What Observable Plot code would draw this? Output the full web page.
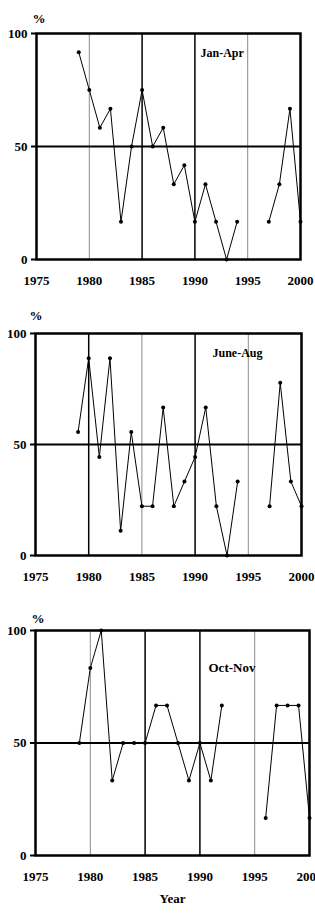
<!DOCTYPE html>
<html>
<head>
<meta charset="utf-8">
<script src="https://cdn.jsdelivr.net/npm/d3@7"></script>
<script src="https://cdn.jsdelivr.net/npm/@observablehq/plot@0.6"></script>
<style>
  html, body { margin: 0; padding: 0; background: #fff; overflow: hidden; width: 315px; }
  #wrap svg { display: block; }
</style>
</head>
<body>
<div id="wrap"></div>
<script>
const years = [1979,1980,1981,1982,1983,1984,1985,1986,1987,1988,1989,1990,1991,1992,1993,1994,1995,1996,1997,1998,1999,2000];
const janApr  = [91.7,75,58.3,66.7,16.7,50,75,50,58.3,33.3,41.7,16.7,33.3,16.7,0,16.7,null,null,16.7,33.3,66.7,16.7];
const juneAug = [55.6,88.9,44.4,88.9,11.1,55.6,22.2,22.2,66.7,22.2,33.3,44.4,66.7,22.2,0,33.3,null,null,22.2,77.8,33.3,22.2];
const octNov  = [50,83.3,100,33.3,50,50,50,66.7,66.7,50,33.3,50,33.3,66.7,null,null,null,16.7,66.7,66.7,66.7,16.7];
const xTicks = [1975,1980,1985,1990,1995,2000];
const yTicks = [0,50,100];
const panelNames = ["Jan-Apr","June-Aug","Oct-Nov"];
const xTitle = "Year";
const yTitle = "%";

const serif = "'Liberation Serif', 'Times New Roman', serif";

function panel(values, name, o) {
  const data = years.map((y, i) => ({year: y, value: values[i]}));
  const marks = [
    Plot.ruleX(o.grayYears, {stroke: "#8a8a8a", strokeWidth: 1}),
    Plot.ruleX(o.blackYears, {stroke: "#000", strokeWidth: 1.5}),
    Plot.ruleY([50], {stroke: "#000", strokeWidth: 2}),
    Plot.line(data, {x: "year", y: "value", stroke: "#000", strokeWidth: 1}),
    Plot.dot(data.filter(d => d.value != null), {x: "year", y: "value", r: 2, fill: "#000", stroke: "none"}),
    Plot.frame({stroke: "#000", strokeWidth: 2.5}),
    Plot.axisY(yTicks, {tickSize: 5, tickPadding: 4, strokeWidth: 2, fontSize: 13, fontWeight: "bold", fill: "#000", label: null}),
    Plot.axisX(xTicks, {tickSize: 0, tickPadding: 16, fontSize: 13, fontWeight: "bold", fill: "#000", tickFormat: d => String(d), label: null}),
    Plot.text([yTitle], {frameAnchor: "top-left", textAnchor: "start", dx: o.pctDx, dy: o.pctDy, fontSize: 13, fontWeight: "bold", fill: "#000"}),
    Plot.text([name], {frameAnchor: "top-left", textAnchor: "start", dx: o.nameDx, dy: o.nameDy, fontSize: o.nameSize, fontWeight: "bold", fill: "#000"})
  ];
  if (o.xLabel) {
    marks.push(Plot.text([xTitle], {frameAnchor: "bottom", dy: 47, fontSize: 13, fontWeight: "bold", fill: "#000"}));
  }
  return Plot.plot({
    width: 315,
    height: o.height,
    marginTop: o.mt, marginBottom: o.mb, marginLeft: o.ml, marginRight: o.mr,
    style: {fontFamily: serif, background: "#fff", color: "#000", overflow: "visible"},
    x: {domain: [1975, 2000]},
    y: {domain: [0, 100]},
    marks
  });
}

const wrap = document.getElementById("wrap");
wrap.append(panel(janApr, panelNames[0], {
  height: 295, mt: 33, mb: 36, ml: 36, mr: 15,
  grayYears: [1980, 1995], blackYears: [1985, 1990],
  pctDx: -4, pctDy: -20, nameDx: 164, nameDy: 15, nameSize: 12
}));
wrap.append(panel(juneAug, panelNames[1], {
  height: 305, mt: 38, mb: 45, ml: 35, mr: 14,
  grayYears: [1985, 1995], blackYears: [1980, 1990],
  pctDx: -6, pctDy: -23, nameDx: 177, nameDy: 15, nameSize: 12
}));
wrap.append(panel(octNov, panelNames[2], {
  height: 319, mt: 30, mb: 64, ml: 35, mr: 6,
  grayYears: [1980, 1995], blackYears: [1985, 1990],
  pctDx: -4, pctDy: -17, nameDx: 173, nameDy: 32, nameSize: 13,
  xLabel: true
}));
</script>
</body>
</html>
